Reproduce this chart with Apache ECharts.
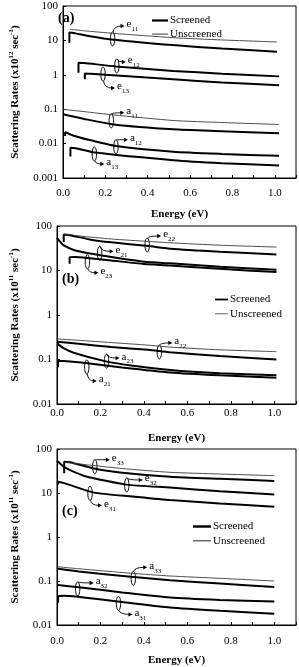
<!DOCTYPE html>
<html>
<head>
<meta charset="utf-8">
<script src="https://cdn.jsdelivr.net/npm/echarts@6/dist/echarts.min.js"></script>
<style>
  html, body { margin: 0; padding: 0; background: #fff; }
  #chart { width: 299px; height: 667px; }
</style>
</head>
<body>
<div id="chart"></div>
<script>
// energy (eV), rate pairs
// panel (a)  x10^12 sec^-1
var e11U = [[0.032, 21], [0.1, 19], [0.24, 16], [0.52, 12], [0.75, 10.3], [1.01, 9.0]];
var e11S = [[0.03, 8.6], [0.03, 17], [0.06, 16], [0.12, 13.5], [0.24, 10.5], [0.52, 7.3], [0.75, 5.8], [1.01, 4.7]];
var e12S = [[0.073, 1.15], [0.073, 2.25], [0.1, 2.2], [0.25, 1.75], [0.52, 1.3], [0.75, 1.08], [1.02, 0.9]];
var e13S = [[0.103, 0.74], [0.103, 1.1], [0.13, 1.08], [0.2, 1.0], [0.52, 0.74], [0.75, 0.6], [1.02, 0.5]];
var a11U = [[0, 0.099], [0.1, 0.085], [0.24, 0.068], [0.52, 0.047], [0.75, 0.041], [1.02, 0.036]];
var a11S = [[0, 0.071], [0.1, 0.052], [0.24, 0.036], [0.52, 0.026], [0.75, 0.023], [1.02, 0.020]];
var a12S = [[0.01, 0.0166], [0.01, 0.0214], [0.05, 0.017], [0.12, 0.013], [0.25, 0.0085], [0.52, 0.0058], [0.75, 0.005], [1.02, 0.0044]];
var a13S = [[0.035, 0.0042], [0.035, 0.0076], [0.06, 0.0073], [0.15, 0.0055], [0.52, 0.0033], [0.75, 0.0027], [1.02, 0.0023]];

// panel (b)  x10^11 sec^-1
var e22U = [[0.031, 67], [0.1, 60], [0.25, 51], [0.42, 45], [0.52, 42], [0.75, 37], [1.01, 33.6]];
var e22S = [[0.031, 43.6], [0.031, 64], [0.06, 62], [0.15, 50], [0.25, 43], [0.42, 35.4], [0.52, 31], [0.75, 26.5], [1.01, 23]];
var e21S = [[0, 54], [0.015, 44], [0.031, 36.5], [0.08, 28.5], [0.2, 22], [0.4, 15.8], [0.52, 14.5], [0.75, 12.2], [1.01, 10.4]];
var e23S = [[0.058, 14.2], [0.058, 20], [0.08, 20.2], [0.14, 19.2], [0.25, 16.8], [0.4, 14], [0.52, 13], [0.75, 10.9], [1.01, 9.2]];
var a22U = [[0, 0.29], [0.1, 0.27], [0.25, 0.24], [0.42, 0.21], [0.52, 0.19], [0.75, 0.165], [1.01, 0.15]];
var a22S = [[0, 0.25], [0.1, 0.225], [0.25, 0.19], [0.42, 0.165], [0.52, 0.145], [0.75, 0.12], [1.01, 0.10]];
var a23S = [[0, 0.23], [0.03, 0.18], [0.08, 0.14], [0.22, 0.092], [0.35, 0.072], [0.52, 0.058], [0.75, 0.049], [1.01, 0.044]];
var a21S = [[0.005, 0.067], [0.005, 0.093], [0.03, 0.092], [0.13, 0.083], [0.3, 0.066], [0.52, 0.051], [0.75, 0.044], [1.01, 0.039]];

// panel (c)  x10^11 sec^-1
var e33U = [[0.033, 50], [0.1, 46], [0.17, 42], [0.3, 36], [0.52, 29.5], [0.75, 27], [1.0, 24.8]];
var e33S = [[0.033, 28], [0.033, 51], [0.06, 50], [0.17, 36], [0.3, 29], [0.52, 23.5], [0.75, 21], [1.0, 18.8]];
var e32S = [[0, 54], [0.03, 40], [0.06, 33], [0.13, 24], [0.32, 15.5], [0.52, 13.3], [0.75, 11], [1.0, 9.3]];
var e31S = [[0.004, 15.5], [0.004, 18], [0.03, 17], [0.17, 10.2], [0.35, 8.3], [0.52, 6.9], [0.75, 5.8], [1.0, 4.9]];
var a33U = [[0.005, 0.21], [0.1, 0.19], [0.34, 0.15], [0.52, 0.13], [0.75, 0.115], [1.0, 0.10]];
var a33S = [[0.005, 0.19], [0.1, 0.165], [0.34, 0.125], [0.52, 0.104], [0.75, 0.088], [1.0, 0.073]];
var a32S = [[0.005, 0.081], [0.1, 0.072], [0.3, 0.055], [0.52, 0.042], [0.75, 0.037], [1.0, 0.034]];
var a31S = [[0.005, 0.032], [0.005, 0.045], [0.03, 0.046], [0.28, 0.034], [0.52, 0.025], [0.75, 0.021], [1.0, 0.018]];

var xTickLabels = ['0.0', '0.2', '0.4', '0.6', '0.8', '1.0'];
var yRangeA = [0.001, 100];
var yRangeBC = [0.01, 100];

// curve labels: ellipse point (E, rate), label text, subscript
var annoA = [
  { at: [0.234, 11], m: 'e', s: '11', dx: 13, dy: -13 },
  { at: [0.254, 1.8], m: 'e', s: '12', dx: 10, dy: -4 },
  { at: [0.189, 1.05], m: 'e', s: '13', dx: 13, dy: 14 },
  { at: [0.228, 0.046], m: 'a', s: '11', dx: 14, dy: -8 },
  { at: [0.25, 0.0081], m: 'a', s: '12', dx: 13, dy: -7 },
  { at: [0.148, 0.005], m: 'a', s: '13', dx: 11, dy: 10 }
];
var annoB = [
  { at: [0.415, 37.3], m: 'e', s: '22', dx: 15, dy: -9 },
  { at: [0.196, 24.3], m: 'e', s: '21', dx: 15, dy: -2 },
  { at: [0.14, 15.7], m: 'e', s: '23', dx: 12, dy: 11 },
  { at: [0.471, 0.148], m: 'a', s: '22', dx: 14, dy: -9 },
  { at: [0.228, 0.092], m: 'a', s: '23', dx: 14, dy: -3 },
  { at: [0.137, 0.068], m: 'a', s: '21', dx: 11, dy: 14 }
];
var annoC = [
  { at: [0.174, 39.6], m: 'e', s: '33', dx: 16, dy: -7 },
  { at: [0.321, 15.2], m: 'e', s: '32', dx: 17, dy: -5 },
  { at: [0.152, 9.8], m: 'e', s: '31', dx: 13, dy: 12 },
  { at: [0.351, 0.115], m: 'a', s: '33', dx: 15, dy: -11 },
  { at: [0.095, 0.066], m: 'a', s: '32', dx: 17, dy: -6 },
  { at: [0.283, 0.031], m: 'a', s: '31', dx: 15, dy: 11 }
];

var FONT = '"Liberation Serif", "DejaVu Serif", serif';
var THICK = '#000';
var THIN = '#3a3a3a';

var myChart = echarts.init(document.getElementById('chart'));

function xAxisFor(i, margin, gap) {
  return {
    type: 'value', gridIndex: i, min: 0, max: 1.1, interval: 0.1,
    name: 'Energy (eV)', nameLocation: 'middle', nameGap: gap,
    nameTextStyle: { fontFamily: FONT, fontWeight: 'bold', fontSize: 11, color: '#000' },
    axisLine: { lineStyle: { color: '#000', width: 1 } },
    axisTick: { inside: true, length: 3, lineStyle: { color: '#000' } },
    splitLine: { show: false },
    axisLabel: {
      margin: margin, fontFamily: FONT, fontSize: 11, color: '#000',
      formatter: function (v) {
        var k = Math.round(v * 10);
        return (k % 2 === 0 && k <= 10) ? xTickLabels[k / 2] : '';
      }
    }
  };
}

function yAxisFor(i, range, exp, gap) {
  return {
    type: 'log', logBase: 10, gridIndex: i, min: range[0], max: range[1],
    name: '{t|Scattering Rates (x10}{p|' + exp + '}{t| sec}{p|-1}{t|)}',
    nameLocation: 'middle', nameGap: gap, nameRotate: 90,
    nameTextStyle: {
      fontFamily: FONT, fontWeight: 'bold', fontSize: 11, color: '#000',
      rich: {
        t: { fontFamily: FONT, fontWeight: 'bold', fontSize: 11, lineHeight: 14, color: '#000' },
        p: { fontFamily: FONT, fontWeight: 'bold', fontSize: 7, verticalAlign: 'top', lineHeight: 14, color: '#000' }
      }
    },
    axisLine: { lineStyle: { color: '#000', width: 1 } },
    axisTick: { inside: true, length: 3, lineStyle: { color: '#000' } },
    minorTick: { show: false },
    splitLine: { show: false },
    axisLabel: { margin: 5, fontFamily: FONT, fontSize: 11, color: '#000' }
  };
}

function curve(name, data, i) {
  var thick = name === 'Screened';
  return {
    name: name, type: 'line', xAxisIndex: i, yAxisIndex: i,
    data: data, symbol: 'none', showSymbol: false, smooth: 0.2,
    silent: true, animation: false,
    lineStyle: { color: thick ? THICK : THIN, width: thick ? 2 : 0.9 },
    itemStyle: { color: thick ? THICK : THIN }
  };
}

function annotations(list, i) {
  return {
    type: 'custom', xAxisIndex: i, yAxisIndex: i, silent: true, animation: false,
    data: list.map(function (a) { return a.at; }),
    encode: { x: 0, y: 1 },
    renderItem: function (params, api) {
      var a = list[params.dataIndex];
      var p = api.coord([api.value(0), api.value(1)]);
      var cx = p[0], cy = p[1];
      var sy = a.dy < 0 ? cy - 7 : cy + 7;
      var ex = cx + a.dx - 2, ey = cy + a.dy;
      return {
        type: 'group',
        children: [
          { type: 'ellipse', shape: { cx: cx, cy: cy, rx: 2.2, ry: 7 },
            style: { fill: 'none', stroke: '#000', lineWidth: 1 } },
          { type: 'bezierCurve', shape: { x1: cx + 0.5, y1: sy, x2: ex - 2, y2: ey, cpx1: cx + 1.5, cpy1: ey },
            style: { fill: 'none', stroke: '#000', lineWidth: 0.9 } },
          { type: 'polygon', shape: { points: [[ex + 1, ey], [ex - 3, ey - 2.2], [ex - 3, ey + 2.2]] },
            style: { fill: '#000' } },
          { type: 'text', x: cx + a.dx + 1, y: ey,
            style: {
              text: '{m|' + a.m + '}{s|' + a.s + '}',
              align: 'left', verticalAlign: 'middle', fill: '#000',
              rich: {
                m: { fontFamily: FONT, fontSize: 11, lineHeight: 14, verticalAlign: 'top', fill: '#000' },
                s: { fontFamily: FONT, fontSize: 7, lineHeight: 14, verticalAlign: 'bottom', fill: '#000' }
              }
            } }
        ]
      };
    }
  };
}

function legendAt(left, top, w, gap) {
  return {
    orient: 'vertical', left: left, top: top, itemWidth: w, itemHeight: 8, itemGap: gap,
    selectedMode: false, symbolKeepAspect: true,
    data: [
      { name: 'Screened', icon: 'path://M0,0H16V2.2H0Z', itemStyle: { color: THICK } },
      { name: 'Unscreened', icon: 'path://M0,0H16V1H0Z', itemStyle: { color: THIN } }
    ],
    textStyle: { fontFamily: FONT, fontSize: 11, color: '#000', lineHeight: 11, padding: [0, 0, 0, -3] }
  };
}

var option = {
  animation: false,
  backgroundColor: '#fff',
  title: [
    { text: '(a)', left: 58, top: 11, textStyle: { fontFamily: FONT, fontWeight: 'bold', fontSize: 14, color: '#000' }, padding: 0 },
    { text: '(b)', left: 62, top: 272, textStyle: { fontFamily: FONT, fontWeight: 'bold', fontSize: 14, color: '#000' }, padding: 0 },
    { text: '(c)', left: 62, top: 504, textStyle: { fontFamily: FONT, fontWeight: 'bold', fontSize: 14, color: '#000' }, padding: 0 }
  ],
  legend: [
    legendAt(147, 10, 16, 2.6),
    legendAt(210, 289, 13, 3.3),
    legendAt(188, 516, 18, 3.3)
  ],
  grid: [
    { left: 55.5, top: 6, width: 243.5, height: 172, show: true, borderColor: '#000', borderWidth: 1 },
    { left: 55.5, top: 226, width: 243.5, height: 178, show: true, borderColor: '#000', borderWidth: 1 },
    { left: 56, top: 449, width: 242, height: 176, show: true, borderColor: '#000', borderWidth: 1 }
  ],
  xAxis: [xAxisFor(0, 10, 31), xAxisFor(1, 4, 29), xAxisFor(2, 11, 30)],
  yAxis: [yAxisFor(0, yRangeA, '12', 41), yAxisFor(1, yRangeBC, '11', 35), yAxisFor(2, yRangeBC, '11', 35)],
  series: [
    curve('Screened', e11S, 0), curve('Unscreened', e11U, 0),
    curve('Screened', e12S, 0), curve('Screened', e13S, 0),
    curve('Screened', a11S, 0), curve('Unscreened', a11U, 0),
    curve('Screened', a12S, 0), curve('Screened', a13S, 0),
    annotations(annoA, 0),

    curve('Screened', e22S, 1), curve('Unscreened', e22U, 1),
    curve('Screened', e21S, 1), curve('Screened', e23S, 1),
    curve('Screened', a22S, 1), curve('Unscreened', a22U, 1),
    curve('Screened', a23S, 1), curve('Screened', a21S, 1),
    annotations(annoB, 1),

    curve('Screened', e33S, 2), curve('Unscreened', e33U, 2),
    curve('Screened', e32S, 2), curve('Screened', e31S, 2),
    curve('Screened', a33S, 2), curve('Unscreened', a33U, 2),
    curve('Screened', a32S, 2), curve('Screened', a31S, 2),
    annotations(annoC, 2)
  ]
};

myChart.setOption(option);
</script>
</body>
</html>
